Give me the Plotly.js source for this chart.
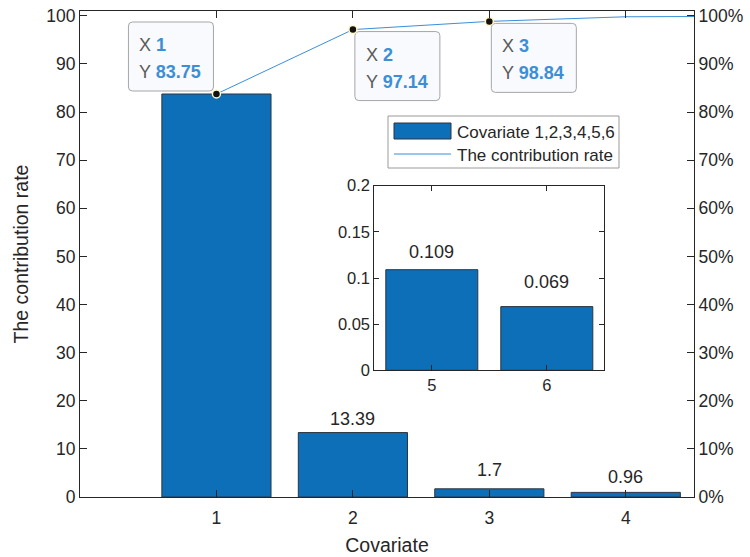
<!DOCTYPE html>
<html>
<head>
<meta charset="utf-8">
<script src="https://cdn.plot.ly/plotly-3.0.1.min.js"></script>
<style>
  html, body { margin: 0; padding: 0; background: #ffffff; }
  #chart { width: 750px; height: 557px; }
</style>
</head>
<body>
<div id="chart"></div>
<script>
// Per-covariate contribution (percent) and the running cumulative rate
const covariates = [1, 2, 3, 4, 5, 6];
const contribution = [83.75, 13.39, 1.7, 0.96, 0.109, 0.069];
const cumulativeRate = [83.75, 97.14, 98.84, 99.80, 99.909, 99.978];

// Axis ticks
const mainTicks = [1, 2, 3, 4];
const insetTicks = [5, 6];
const leftTicks = [0, 10, 20, 30, 40, 50, 60, 70, 80, 90, 100];
const rightTickLabels = ['0%', '10%', '20%', '30%', '40%', '50%', '60%', '70%', '80%', '90%', '100%'];
const insetYTicks = [0, 0.05, 0.1, 0.15, 0.2];

// Which points carry a data tip, and which bars carry a value label
const tipIndex = [0, 1, 2];
const labelIndex = [1, 2, 3, 4, 5];
const legendNames = ['Covariate 1,2,3,4,5,6', 'The contribution rate'];

// ---- styling ----
const FONT = 'Liberation Sans, Arial, Helvetica, sans-serif';
const INK = '#262626';
const BAR = '#0c6fb8';
const BAR_EDGE = '#2b3440';
const LINE = '#3a8fd9';
const TIP_BLUE = '#3c8fd6';
const mainCount = 4;                       // bars shown on the main axes
const labelLift = [0, 14, 19, 15, 18, 25];   // px gap between bar top and its label
const tipPlacement = ['upleft', 'downright', 'downright'];

// plot area in px (used to place the legend box in paper units)
const M = { l: 80, r: 56, t: 11, b: 60 };
const W = 750, H = 557;
const PW = W - M.l - M.r, PH = H - M.t - M.b;
const px = v => (v - M.l) / PW;
const py = v => (H - M.b - v) / PH;

const mainX = covariates.slice(0, mainCount);
const mainY = contribution.slice(0, mainCount);
const insetX = covariates.slice(mainCount);
const insetY = contribution.slice(mainCount);

const traces = [
  {
    type: 'bar', x: mainX, y: mainY, xaxis: 'x', yaxis: 'y',
    width: 0.8,
    marker: { color: BAR, line: { color: BAR_EDGE, width: 1 } },
    hoverinfo: 'x+y', showlegend: false
  },
  {
    type: 'scatter', mode: 'lines', x: covariates, y: cumulativeRate,
    xaxis: 'x', yaxis: 'y2',
    line: { color: LINE, width: 1 },
    showlegend: false
  },
  {
    type: 'scatter', mode: 'markers',
    x: tipIndex.map(i => covariates[i]), y: tipIndex.map(i => cumulativeRate[i]),
    xaxis: 'x', yaxis: 'y2',
    marker: { color: '#111111', size: 8, line: { color: '#fff8c8', width: 1.5 } },
    showlegend: false
  },
  {
    type: 'bar', x: insetX, y: insetY, xaxis: 'x2', yaxis: 'y3',
    width: 0.8,
    marker: { color: BAR, line: { color: BAR_EDGE, width: 1 } },
    showlegend: false
  }
];

function roundRect(x0, x1, y0, y1, r) {
  return 'M' + (x0 + r) + ',' + y0 + ' L' + (x1 - r) + ',' + y0 +
    ' Q' + x1 + ',' + y0 + ' ' + x1 + ',' + (y0 + r) +
    ' L' + x1 + ',' + (y1 - r) +
    ' Q' + x1 + ',' + y1 + ' ' + (x1 - r) + ',' + y1 +
    ' L' + (x0 + r) + ',' + y1 +
    ' Q' + x0 + ',' + y1 + ' ' + x0 + ',' + (y1 - r) +
    ' L' + x0 + ',' + (y0 + r) +
    ' Q' + x0 + ',' + y0 + ' ' + (x0 + r) + ',' + y0 + ' Z';
}

const shapes = [];
const annotations = [];

// data tips: rounded box next to the point, with X / Y readouts
const TIP_W = 85, TIP_H = 69;
tipIndex.forEach((i, k) => {
  const xv = covariates[i], yv = cumulativeRate[i];
  let bx0, by1; // box left and top, px relative to point (y positive up)
  if (tipPlacement[k] === 'upleft') { bx0 = -88; by1 = 72; }
  else { bx0 = 2; by1 = -2; }
  const bx1 = bx0 + TIP_W, by0 = by1 - TIP_H;
  shapes.push({
    type: 'path', layer: 'below',
    xref: 'x', yref: 'y2', xsizemode: 'pixel', ysizemode: 'pixel',
    xanchor: xv, yanchor: yv,
    path: roundRect(bx0, bx1, by0, by1, 4),
    fillcolor: '#f8fafd', line: { color: '#a6a6a6', width: 1 }
  });
  const rows = [
    ['X', String(xv)],
    ['Y', yv.toFixed(2)]
  ];
  rows.forEach((row, r) => {
    annotations.push({
      xref: 'x', yref: 'y2', x: xv, y: yv,
      xshift: bx0 + 9, yshift: by1 - 23 - r * 27,
      xanchor: 'left', yanchor: 'middle', showarrow: false,
      text: '<span style="color:#5a5a5a">' + row[0] + '</span> <b>' + row[1] + '</b>',
      font: { family: FONT, size: 18, color: TIP_BLUE }
    });
  });
});

// value labels above the bars
labelIndex.forEach(i => {
  const inset = i >= mainCount;
  annotations.push({
    xref: inset ? 'x2' : 'x', yref: inset ? 'y3' : 'y',
    x: covariates[i], y: contribution[i], yshift: labelLift[i],
    xanchor: 'center', yanchor: 'middle', showarrow: false,
    text: String(contribution[i]),
    font: { family: FONT, size: 18, color: INK }
  });
});

// legend box
shapes.push({
  type: 'rect', xref: 'paper', yref: 'paper', layer: 'above',
  x0: px(388), x1: px(619), y0: py(168), y1: py(116),
  fillcolor: '#ffffff', line: { color: '#9a9a9a', width: 1 }
});
shapes.push({
  type: 'rect', xref: 'paper', yref: 'paper', layer: 'above',
  x0: px(394), x1: px(451), y0: py(139), y1: py(123),
  fillcolor: BAR, line: { color: BAR_EDGE, width: 1 }
});
shapes.push({
  type: 'line', xref: 'paper', yref: 'paper', layer: 'above',
  x0: px(394), x1: px(451), y0: py(154), y1: py(154),
  line: { color: LINE, width: 1.2 }
});
legendNames.forEach((name, r) => {
  annotations.push({
    xref: 'paper', yref: 'paper', x: px(455), y: py(r === 0 ? 132 : 155),
    xanchor: 'left', yanchor: 'middle', showarrow: false,
    text: name, font: { family: FONT, size: 17, color: INK }
  });
});

const axisCommon = {
  showgrid: false, zeroline: false, showline: true,
  linecolor: INK, linewidth: 1, ticks: 'inside', tickcolor: INK,
  tickfont: { family: FONT, size: 17.5, color: INK },
  layer: 'above traces', fixedrange: true
};

const layout = {
  width: W, height: H,
  margin: M,
  paper_bgcolor: '#ffffff', plot_bgcolor: '#ffffff',
  font: { family: FONT, color: INK },
  showlegend: false,
  xaxis: Object.assign({}, axisCommon, {
    domain: [0, 1], range: [0, 4.5], anchor: 'y',
    tickmode: 'array', tickvals: mainTicks, ticktext: mainTicks.map(String),
    ticklen: 7, mirror: 'ticks', ticklabelstandoff: 5,
    title: { text: 'Covariate', font: { family: FONT, size: 19.5, color: INK }, standoff: 11 }
  }),
  yaxis: Object.assign({}, axisCommon, {
    domain: [0, 1], range: [0, 101], anchor: 'x',
    tickmode: 'array', tickvals: leftTicks, ticktext: leftTicks.map(String),
    ticklen: 7,
    title: { text: 'The contribution rate', font: { family: FONT, size: 19.5, color: INK }, standoff: 12 }
  }),
  yaxis2: Object.assign({}, axisCommon, {
    overlaying: 'y', side: 'right', anchor: 'x', range: [0, 101],
    tickmode: 'array', tickvals: leftTicks, ticktext: rightTickLabels,
    ticklen: 7
  }),
  xaxis2: Object.assign({}, axisCommon, {
    domain: [px(374.3), px(604.3)], range: [4.5, 6.5], anchor: 'y3',
    tickmode: 'array', tickvals: insetTicks, ticktext: insetTicks.map(String),
    ticklen: 5, mirror: 'ticks',
    tickfont: { family: FONT, size: 16.5, color: INK }
  }),
  yaxis3: Object.assign({}, axisCommon, {
    domain: [py(370.3), py(185.7)], range: [0, 0.2], anchor: 'x2',
    tickmode: 'array', tickvals: insetYTicks, ticktext: insetYTicks.map(String),
    ticklen: 5, mirror: 'ticks',
    tickfont: { family: FONT, size: 16.5, color: INK }
  }),
  shapes: shapes,
  annotations: annotations
};

Plotly.newPlot('chart', traces, layout, { displayModeBar: false, staticPlot: true });
</script>
</body>
</html>
